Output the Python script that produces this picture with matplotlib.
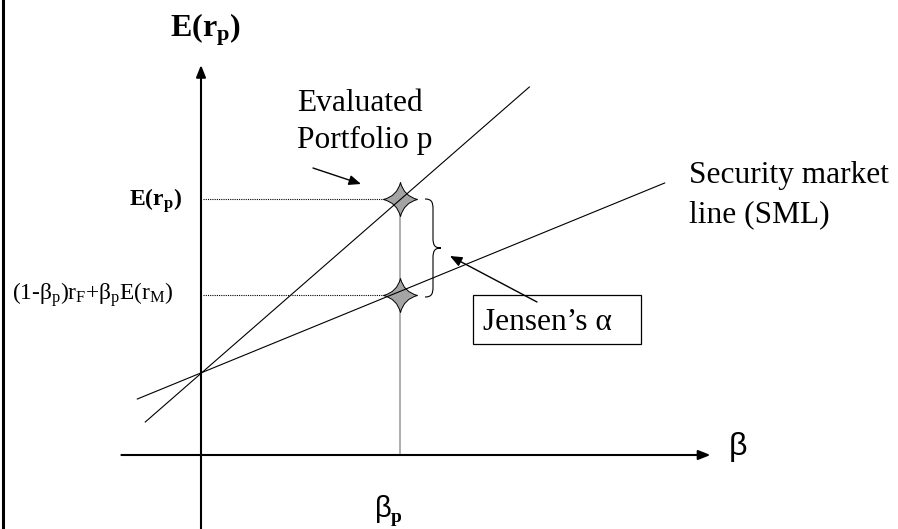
import matplotlib
matplotlib.use("Agg")
import matplotlib.pyplot as plt
from matplotlib.path import Path
from matplotlib.patches import PathPatch, Rectangle
from matplotlib.lines import Line2D

plt.rcParams['mathtext.fontset'] = 'custom'
plt.rcParams['mathtext.rm'] = 'Liberation Serif'
plt.rcParams['mathtext.it'] = 'Liberation Serif:italic'
plt.rcParams['mathtext.bf'] = 'Liberation Serif:bold'
plt.rcParams['font.family'] = ['Liberation Serif', 'DejaVu Serif']

# ---------------- data (beta, expected return units) ----------------
beta_p = 1.0          # beta of evaluated portfolio
r_f = 0.82            # risk-free rate (intercept)
E_rp = 2.56           # expected return of portfolio p
E_sml_p = 1.60        # SML return at beta_p
port_line_beta = [-0.28, 1.65]
port_line_E = [0.33, 3.68]
sml_beta = [-0.32, 2.33]
sml_E = [0.56, 2.72]
yaxis_E = [-0.74, 3.90]
xaxis_beta = [-0.40, 2.56]

# pixel <-> data helpers (for label placement only)
W, H = 898, 529
def bx(px):
    return (px - 201) / 199.0
def ey(py):
    return (455 - py) / 100.0

fig = plt.figure(figsize=(W / 100, H / 100), dpi=100)
ax = fig.add_axes([0, 0, 1, 1])
ax.set_xlim(bx(0), bx(W))
ax.set_ylim(ey(H), ey(0))
ax.axis('off')

# left frame edge
fig.add_artist(Line2D([2.5 / W, 2.5 / W], [0, 1], transform=fig.transFigure,
                      color='black', lw=2.2))

arrow_kw = dict(arrowstyle='-|>,head_length=0.55,head_width=0.22', color='black',
                lw=1.5, mutation_scale=13, shrinkA=0, shrinkB=0)
# axes
ax.annotate('', xy=(0, yaxis_E[1]), xytext=(0, yaxis_E[0]), arrowprops=arrow_kw)
ax.annotate('', xy=(xaxis_beta[1], 0), xytext=(xaxis_beta[0], 0), arrowprops=arrow_kw)

# guide lines
ax.plot([beta_p, beta_p], [0, E_rp], color='#a8a8a8', lw=1.3, zorder=1)
ax.plot([bx(203), beta_p], [E_rp, E_rp], color='black', lw=0.8, ls=(0, (1, 1)), zorder=1)
ax.plot([bx(203), beta_p], [E_sml_p, E_sml_p], color='black', lw=0.8, ls=(0, (1, 1)), zorder=1)

# star markers
k = 0.2
star = Path([(0, 1), (k, k), (1, 0), (k, -k), (0, -1), (-k, -k), (-1, 0), (-k, k), (0, 1), (0, 1)],
            [Path.MOVETO, Path.CURVE3, Path.CURVE3, Path.CURVE3, Path.CURVE3,
             Path.CURVE3, Path.CURVE3, Path.CURVE3, Path.CURVE3, Path.CLOSEPOLY])
ax.plot([beta_p, beta_p], [E_rp, E_sml_p], ls='none', marker=star, markersize=24.5,
        markerfacecolor='#a4a4a4', markeredgecolor='black', markeredgewidth=0.7, zorder=2)

# lines
ax.plot(port_line_beta, port_line_E, color='black', lw=0.8, zorder=3)
ax.plot(sml_beta, sml_E, color='black', lw=0.8, zorder=3)

# curly brace between the two returns
def brace(x0, w, ytop, ybot):
    h = ytop - ybot
    pts = [(0, 0), (0.4, 0), (0.5, 0.03), (0.5, 0.1), (0.5, 0.4),
           (0.5, 0.47), (0.6, 0.5), (1, 0.5),
           (0.6, 0.5), (0.5, 0.53), (0.5, 0.6), (0.5, 0.9),
           (0.5, 0.97), (0.4, 1), (0, 1)]
    codes = [Path.MOVETO, Path.CURVE4, Path.CURVE4, Path.CURVE4, Path.LINETO,
             Path.CURVE4, Path.CURVE4, Path.CURVE4,
             Path.CURVE4, Path.CURVE4, Path.CURVE4, Path.LINETO,
             Path.CURVE4, Path.CURVE4, Path.CURVE4]
    verts = [(x0 + u * w, ytop - v * h) for u, v in pts]
    return PathPatch(Path(verts, codes), fill=False, edgecolor='black', lw=0.8)

ax.add_patch(brace(bx(425), bx(441) - bx(425), E_rp, ey(297)))

# annotation arrows
small_arrow = dict(arrowstyle='-|>,head_length=0.6,head_width=0.25', color='black',
                   lw=1.0, mutation_scale=12, shrinkA=0, shrinkB=0)
ax.annotate('', xy=(bx(361), ey(184)), xytext=(bx(313), ey(168)), arrowprops=small_arrow)
ax.annotate('', xy=(bx(450), ey(256)), xytext=(bx(537), ey(302)), arrowprops=small_arrow)

# Jensen box
ax.add_patch(Rectangle((bx(473), ey(344)), bx(641) - bx(473), ey(295) - ey(344),
                       fill=False, edgecolor='black', lw=0.9))

big = 22.6
ax.text(bx(297), ey(111), 'Evaluated', fontsize=big, ha='left', va='baseline')
ax.text(bx(297), ey(148), 'Portfolio p', fontsize=big, ha='left', va='baseline')
ax.text(bx(689), ey(183), 'Security market', fontsize=big, ha='left', va='baseline')
ax.text(bx(689), ey(222), 'line (SML)', fontsize=big, ha='left', va='baseline')
ax.text(bx(483), ey(330), 'Jensen\u2019s \u03b1', fontsize=big, ha='left', va='baseline')

ax.text(bx(205), ey(37), r'$\mathbf{E(r_p)}$', fontsize=23, ha='center', va='baseline')
ax.text(bx(182), ey(206), r'$\mathbf{E(r_p)}$', fontsize=17, ha='right', va='baseline')
ax.text(bx(12), ey(300), r'$\mathrm{(1\text{-}\beta_p)r_F\text{+}\beta_pE(r_M)}$',
        fontsize=16.8, ha='left', va='baseline')

ax.text(bx(729), ey(455), '\u03b2', fontsize=23, family='Liberation Sans',
        ha='left', va='baseline')
ax.text(bx(375), ey(517), '\u03b2', fontsize=21, family='Liberation Sans',
        ha='left', va='baseline')
ax.text(bx(391), ey(522), 'p', fontsize=14, fontweight='bold', ha='left', va='baseline')

fig.savefig('out.png', dpi=100)
